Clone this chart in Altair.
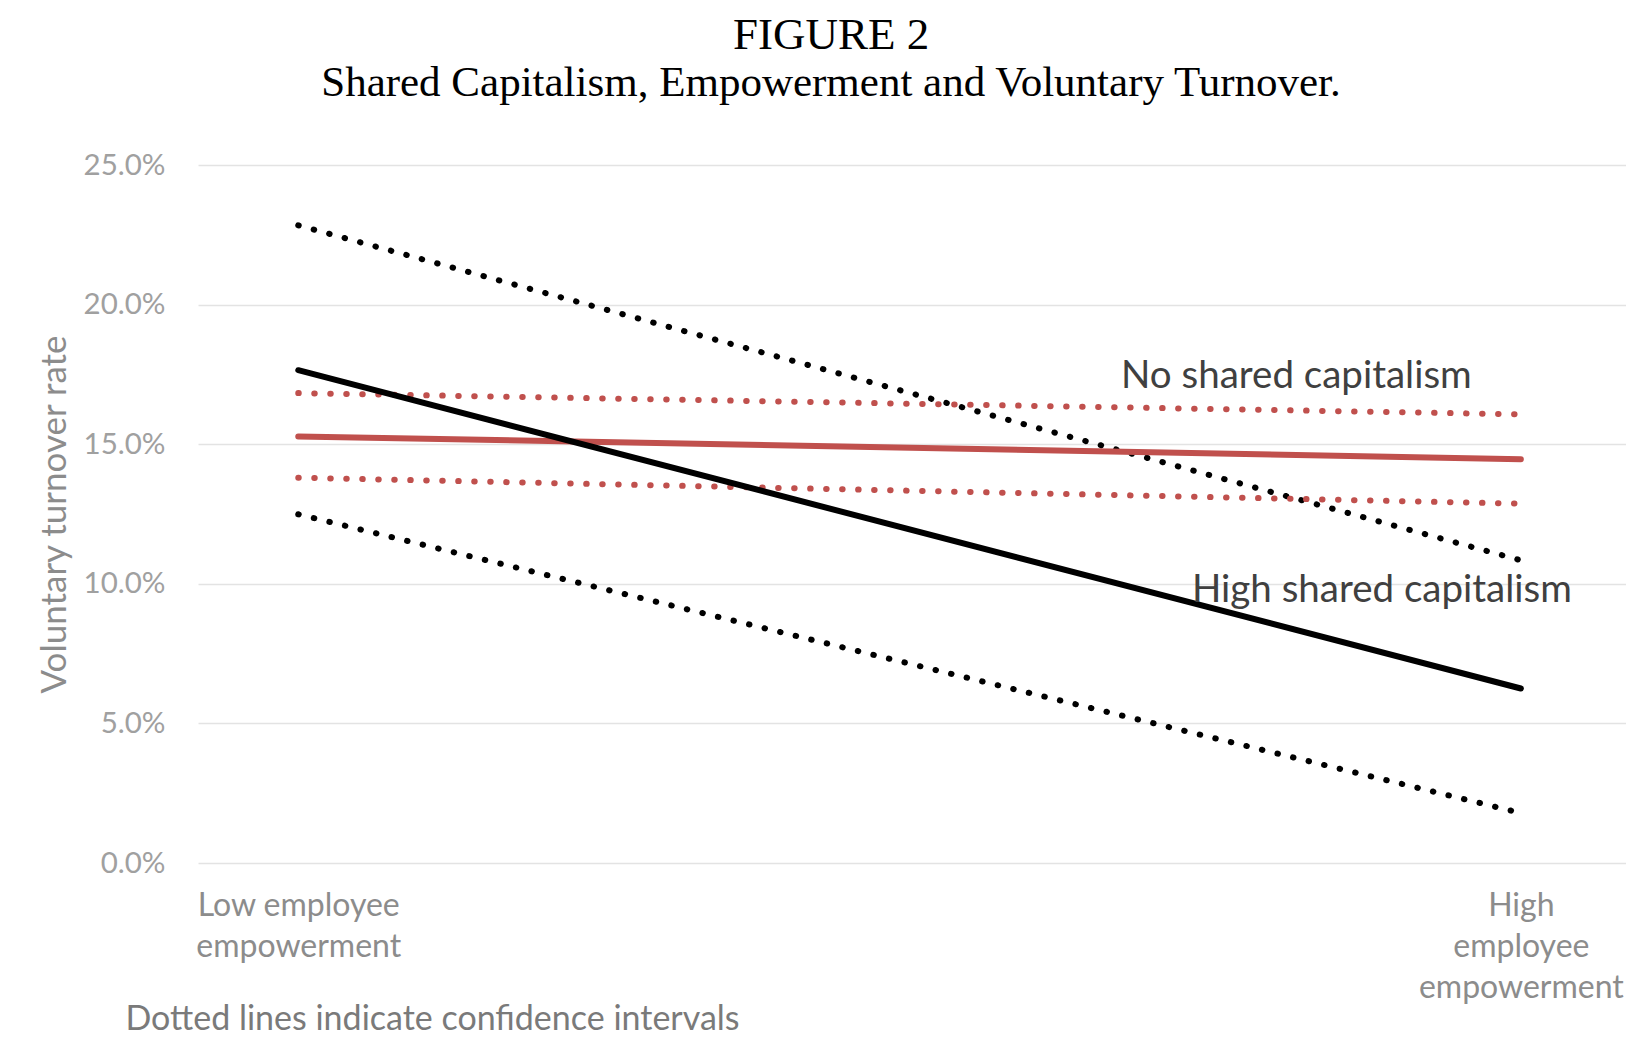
import json
import altair as alt
import pandas as pd

# ---- data ----
x_pos = [0, 1]
low_label = ["Low employee", "empowerment"]
high_label = ["High", "employee", "empowerment"]

high_sc_mean = [17.65, 6.25]
high_sc_upper = [22.84, 10.84]
high_sc_lower = [12.49, 1.79]
no_sc_mean = [15.28, 14.46]
no_sc_upper = [16.83, 16.07]
no_sc_lower = [13.80, 12.87]

annot_text = ["No shared capitalism", "High shared capitalism"]
annot_x = [0.673, 0.731]
annot_y = [17.43, 9.77]

y_ticks = [0, 5, 10, 15, 20, 25]

# ---- tables ----
series = [
    ("high_upper", "High", "dotted", high_sc_upper),
    ("high_lower", "High", "dotted", high_sc_lower),
    ("no_upper", "No", "dotted", no_sc_upper),
    ("no_lower", "No", "dotted", no_sc_lower),
    ("no_mean", "No", "solid", no_sc_mean),
    ("high_mean", "High", "solid", high_sc_mean),
]
rows = []
for order, (name, group, kind, vals) in enumerate(series):
    for xv, yv in zip(x_pos, vals):
        rows.append({"line": name, "group": group, "kind": kind, "x": xv, "y": yv, "order": order})
df = pd.DataFrame(rows)
df_annot = pd.DataFrame({"x": annot_x, "y": annot_y, "text": annot_text})

label_expr = "datum.value == 0 ? %s : %s" % (json.dumps(low_label), json.dumps(high_label))

x_enc = alt.X(
    "x:Q",
    scale=alt.Scale(domain=[-0.082, 1.086], nice=False, zero=False),
    axis=alt.Axis(
        values=x_pos,
        labelExpr=label_expr,
        grid=False,
        domain=False,
        ticks=False,
        labelFont="Lato",
        labelFontSize=32,
        labelColor="#8c8c8c",
        labelLineHeight=41,
        labelBaseline="top",
        labelAlign="center",
        labelPadding=27,
        labelLimit=0,
        labelFlush=False,
        labelOverlap=False,
        title="Dotted lines indicate confidence intervals",
        titleFont="Lato",
        titleFontSize=34,
        titleFontWeight="normal",
        titleColor="#7a7a7a",
        titleAnchor="start",
        titleAlign="left",
        titleBaseline="middle",
        titleX=-73,
        titleY=156,
    ),
)
y_enc = alt.Y(
    "y:Q",
    scale=alt.Scale(domain=[0, 25], nice=False),
    axis=alt.Axis(
        values=y_ticks,
        labelExpr="format(datum.value, '.1f') + '%'",
        grid=True,
        gridColor="#e3e3e3",
        gridWidth=1.5,
        domain=False,
        ticks=False,
        labelPadding=33,
        labelFont="Lato",
        labelFontSize=29.5,
        labelColor="#a0a0a0",
        title="Voluntary turnover rate",
        titleFont="Lato",
        titleFontSize=35,
        titleFontWeight="normal",
        titleColor="#8c8c8c",
        titleAngle=-90,
        titleAlign="center",
        titleBaseline="middle",
        titleX=-144,
        titleY=349,
    ),
)
color_enc = alt.Color(
    "group:N",
    scale=alt.Scale(domain=["High", "No"], range=["#000000", "#c0504d"]),
    legend=None,
)

dotted = alt.Chart(df).transform_filter("datum.kind == 'dotted'").mark_line(
    strokeWidth=6, strokeCap="round", strokeDash=[0.5, 15.5]
).encode(x=x_enc, y=y_enc, color=color_enc, detail="line:N")

solid_red = alt.Chart(df).transform_filter("datum.line == 'no_mean'").mark_line(
    strokeWidth=6, strokeCap="round"
).encode(x=x_enc, y=y_enc, color=color_enc, detail="line:N")

solid_black = alt.Chart(df).transform_filter("datum.line == 'high_mean'").mark_line(
    strokeWidth=6, strokeCap="round"
).encode(x=x_enc, y=y_enc, color=color_enc, detail="line:N")

annots = alt.Chart(df_annot).mark_text(
    align="left", baseline="middle", font="Lato", fontSize=38.5, color="#404040"
).encode(x="x:Q", y="y:Q", text="text:N")

chart = alt.layer(dotted, solid_red, solid_black, annots).properties(
    width=1428,
    height=698,
    autosize=alt.AutoSizeParams(type="none"),
    padding={"left": 190, "top": 157, "right": 0, "bottom": 175},
    background="white",
    title=alt.TitleParams(
        text="FIGURE 2",
        subtitle="Shared Capitalism, Empowerment and Voluntary Turnover.",
        font="Liberation Serif",
        fontSize=45,
        fontWeight="normal",
        color="#000000",
        subtitleFont="Liberation Serif",
        subtitleFontSize=43,
        subtitleColor="#000000",
        subtitlePadding=4,
        anchor="middle",
        dx=-81,
        offset=45,
    ),
).configure_view(strokeWidth=0)

chart.save("out.html", embed_options={"renderer": "svg", "actions": False})
